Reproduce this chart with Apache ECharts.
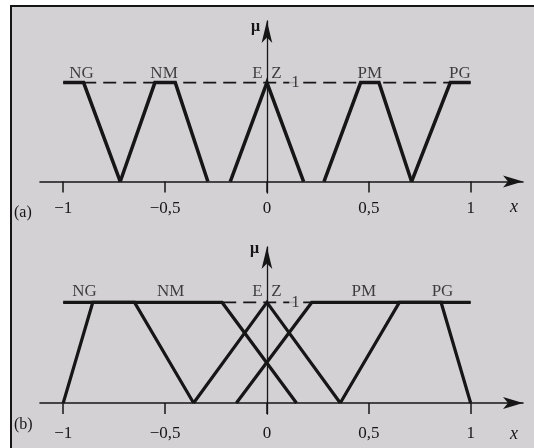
<!DOCTYPE html>
<html>
<head>
<meta charset="utf-8">
<script src="https://cdn.jsdelivr.net/npm/echarts@6/dist/echarts.min.js"></script>
<style>
  html, body { margin: 0; padding: 0; background: #fff; overflow: hidden; width: 534px; height: 448px; }
  #frame { position: absolute; left: 10px; top: 5px; width: 540px; height: 460px;
           background: #d3d1d4; border-top: 2px solid #151515; border-left: 2px solid #151515; }
  #chart { position: absolute; left: 0; top: 0; width: 534px; height: 448px; }
</style>
</head>
<body>
<div id="frame"></div>
<div id="chart"></div>
<script>
// Ticks on the universe of discourse x and their printed labels (decimal comma)
const xTicks = [-1, -0.5, 0, 0.5, 1];
const xTickLabels = ['−1', '−0,5', '0', '0,5', '1'];

// (a) membership functions, vertices as [x, μ]
const ngA = [[-1, 1], [-0.9, 1], [-0.72, 0]];
const nmA = [[-0.72, 0], [-0.55, 1], [-0.45, 1], [-0.29, 0]];
const ezA = [[-0.18, 0], [0, 1], [0.18, 0]];
const pmA = [[0.28, 0], [0.46, 1], [0.55, 1], [0.71, 0]];
const pgA = [[0.71, 0], [0.9, 1], [1, 1]];

// (b) membership functions, vertices as [x, μ]
const ngB = [[-1, 1], [-0.65, 1], [-0.36, 0]];
const nmB = [[-1, 0], [-0.855, 1], [-0.22, 1], [0.145, 0]];
const ezB = [[-0.36, 0], [0, 1], [0.36, 0]];
const pmB = [[-0.15, 0], [0.22, 1], [0.855, 1], [1, 0]];
const pgB = [[0.36, 0], [0.65, 1], [1, 1]];

// Dashed level μ = 1 and where its "1" is written
const unitLevel = [[-1, 1], [1, 1]];
const unitMarkX = 0.14;

// Set names and the x where each is written
const namesA = [[-0.91, 'NG'], [-0.505, 'NM'], [0, 'E\u2002Z'], [0.505, 'PM'], [0.947, 'PG']];
const namesB = [[-0.895, 'NG'], [-0.472, 'NM'], [0, 'E\u2002Z'], [0.476, 'PM'], [0.862, 'PG']];

const INK = '#161616';
const PAPER = '#d3d1d4';
const SERIF = '"Liberation Serif", "DejaVu Serif", serif';

function xAxisFor(gridIndex, labelMargin) {
  return {
    type: 'value', gridIndex: gridIndex, min: -1.114, max: 1.257,
    axisLine: { show: true, onZero: true, symbol: ['none', 'arrow'], symbolSize: [9, 20],
                lineStyle: { color: INK, width: 1.6 } },
    axisTick: { show: true, customValues: xTicks, length: 11, lineStyle: { color: INK, width: 1.5 } },
    axisLabel: { show: true, customValues: xTicks, margin: labelMargin,
                 formatter: function (v) { return xTickLabels[xTicks.indexOf(v)]; },
                 fontFamily: SERIF, fontSize: 17, color: INK },
    splitLine: { show: false }
  };
}

function yAxisFor(gridIndex, min, max) {
  return {
    type: 'value', gridIndex: gridIndex, min: min, max: max,
    axisLine: { show: true, onZero: true, symbol: ['none', 'arrow'], symbolSize: [8, 22],
                lineStyle: { color: INK, width: 1.3 } },
    axisTick: { show: false }, axisLabel: { show: false }, splitLine: { show: false }
  };
}

function setLine(data, idx, width) {
  return {
    type: 'line', xAxisIndex: idx, yAxisIndex: idx, data: data,
    showSymbol: false, symbol: 'none', silent: true, z: 5,
    lineStyle: { color: INK, width: width, join: 'miter', cap: 'butt' }
  };
}

function levelLine(idx) {
  return {
    type: 'line', xAxisIndex: idx, yAxisIndex: idx, data: unitLevel,
    showSymbol: false, symbol: 'none', silent: true, z: 3,
    lineStyle: { color: INK, width: 1.8, type: [13, 7] }
  };
}

function nameLabels(names, idx, dy) {
  return {
    type: 'scatter', xAxisIndex: idx, yAxisIndex: idx, symbolSize: 0, silent: true, z: 6,
    data: names.map(function (n) { return { value: [n[0], 1], name: n[1] }; }),
    label: { show: true, position: 'inside', offset: [0, dy], formatter: '{b}',
             fontFamily: SERIF, fontSize: 17, color: INK }
  };
}

function unitMark(idx) {
  return {
    type: 'scatter', xAxisIndex: idx, yAxisIndex: idx, symbolSize: 0, silent: true, z: 6,
    data: [{ value: [unitMarkX, 1], name: '1' }],
    label: { show: true, position: 'inside', formatter: '{b}', fontFamily: SERIF, fontSize: 17,
             color: INK, backgroundColor: PAPER, padding: [0, 2] }
  };
}

const chart = echarts.init(document.getElementById('chart'), null, { renderer: 'canvas' });
chart.setOption({
  animation: false,
  backgroundColor: 'transparent',
  grid: [
    { left: 40, right: 11, top: 21, height: 172 },
    { left: 40, right: 11, top: 247, height: 167 }
  ],
  xAxis: [xAxisFor(0, 7), xAxisFor(1, 11)],
  yAxis: [yAxisFor(0, -0.116, 1.623), yAxisFor(1, -0.109, 1.551)],
  graphic: [
    { type: 'text', left: 14, top: 205, style: { text: '(a)', font: '16px ' + SERIF, fill: INK } },
    { type: 'text', left: 14, top: 417, style: { text: '(b)', font: '16px ' + SERIF, fill: INK } },
    { type: 'text', left: 510, top: 198, style: { text: 'x', font: 'italic 18px ' + SERIF, fill: INK } },
    { type: 'text', left: 510, top: 425, style: { text: 'x', font: 'italic 18px ' + SERIF, fill: INK } },
    { type: 'text', left: 251, top: 19, style: { text: 'μ', font: 'bold 16px ' + SERIF, fill: INK } },
    { type: 'text', left: 250, top: 241, style: { text: 'μ', font: 'bold 16px ' + SERIF, fill: INK } }
  ],
  series: [
    levelLine(0),
    setLine(ngA, 0, 3.5), setLine(nmA, 0, 3.5), setLine(ezA, 0, 3.5),
    setLine(pmA, 0, 3.5), setLine(pgA, 0, 3.5),
    nameLabels(namesA, 0, -9.5), unitMark(0),
    levelLine(1),
    setLine(ngB, 1, 3.2), setLine(nmB, 1, 3.2), setLine(ezB, 1, 3.2),
    setLine(pmB, 1, 3.2), setLine(pgB, 1, 3.2),
    nameLabels(namesB, 1, -10.5), unitMark(1)
  ]
});
</script>
</body>
</html>
